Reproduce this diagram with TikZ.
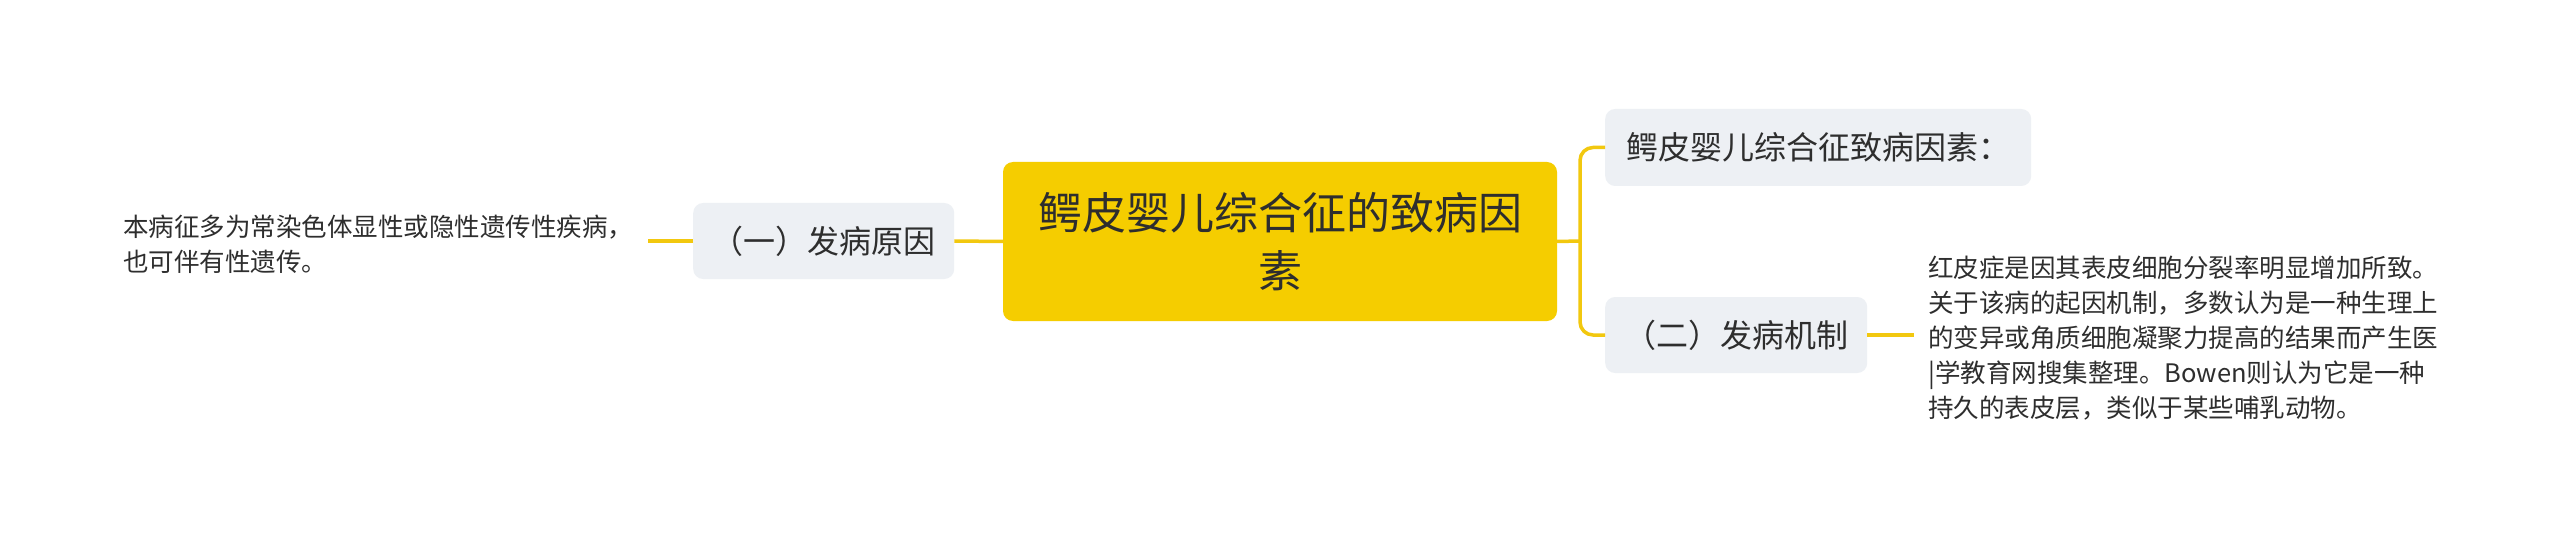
\documentclass[tikz,border=0pt]{standalone}
\usepackage{fontspec}
\setmainfont{Noto Sans CJK SC}
\definecolor{gold}{HTML}{F5CD00}
\definecolor{linec}{HTML}{F2C80F}
\definecolor{nodebg}{HTML}{EDF0F4}
\definecolor{txt}{HTML}{2E2E2E}
\tikzset{
  conn/.style={draw=linec, line width=3.5pt},
  rootbox/.style={fill=gold, rounded corners=10pt, inner sep=0pt, text=txt, align=center,
    font=\fontsize{44}{58}\selectfont},
  subbox/.style={fill=nodebg, rounded corners=10pt, inner xsep=17pt, inner ysep=0pt, text=txt,
    font=\fontsize{32}{38}\selectfont},
  leaftext/.style={inner xsep=15pt, inner ysep=0pt, text=txt, align=left,
    font=\fontsize{25.5}{35}\selectfont},
}
\begin{document}
\begin{tikzpicture}[x=1pt,y=-1pt]
\useasboundingbox[fill=white] (0,0) rectangle (2560,540);
% central
\node[rootbox, minimum width=554pt, minimum height=159pt] (c) at (1280,241.5)
  {鳄皮婴儿综合征的致病因\\素};
% left branch
\node[subbox, minimum width=261pt, minimum height=76pt, anchor=west] (l1) at (693,241) {（一）发病原因};
\node[leaftext, anchor=west] (lleaf) at (108,244.5)
  {本病征多为常染色体显性或隐性遗传性疾病，\\也可伴有性遗传。};
% right branch
\node[subbox, minimum width=426pt, minimum height=77pt, anchor=west] (r1) at (1605,147.5) {鳄皮婴儿综合征致病因素：};
\node[subbox, minimum width=262pt, minimum height=76pt, anchor=west] (r2) at (1605,335) {（二）发病机制};
\node[leaftext, anchor=west, inner xsep=14pt] (rleaf) at (1914,338)
  {红皮症是因其表皮细胞分裂率明显增加所致。\\
   关于该病的起因机制，多数认为是一种生理上\\
   的变异或角质细胞凝聚力提高的结果而产生医\\
   |学教育网搜集整理。Bowen则认为它是一种\\
   持久的表皮层，类似于某些哺乳动物。};
\coordinate (bx) at (1580,241);
% connectors
\draw[conn] (c.west) -- (l1.east);
\draw[conn] (l1.west) -- (lleaf.east |- l1.west);
\draw[conn] (c.east) -- (bx);
\draw[conn, rounded corners=13pt] (r1.west) -- (bx |- r1.west) -- (bx |- r2.west) -- (r2.west);
\draw[conn] (r2.east) -- (rleaf.west |- r2.east);
\end{tikzpicture}
\end{document}
